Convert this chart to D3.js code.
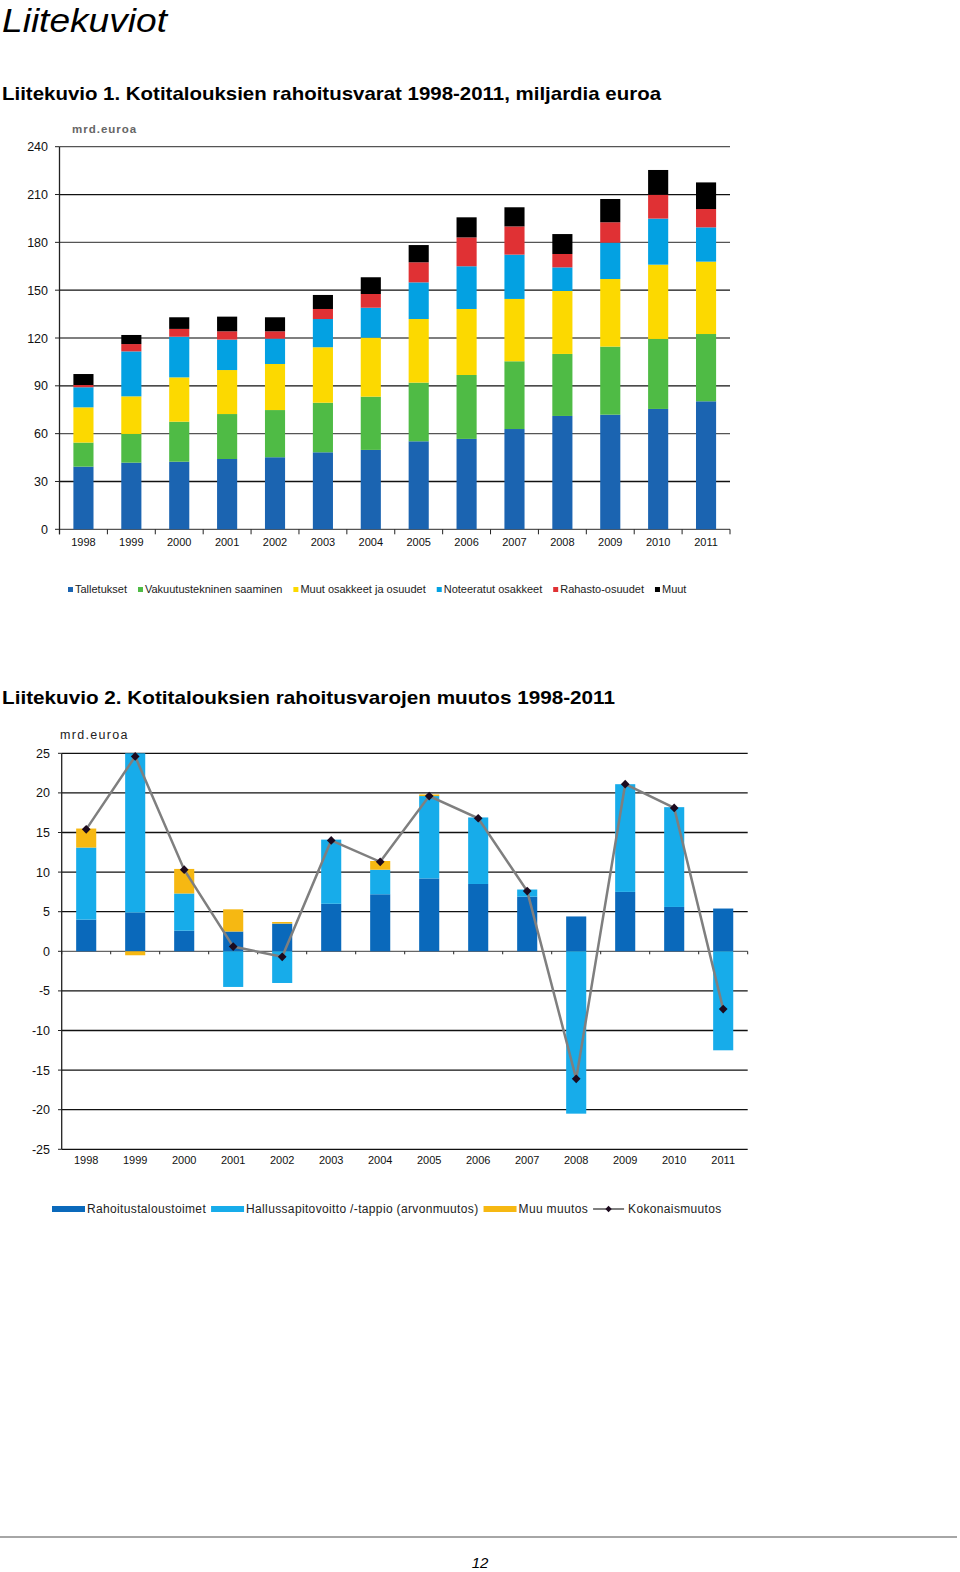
<!DOCTYPE html>
<html>
<head>
<meta charset="utf-8">
<script src="https://d3js.org/d3.v7.min.js"></script>
<style>
  body { margin: 0; background: #fff; }
  svg { display: block; font-family: "Liberation Sans", Arial, sans-serif; }
</style>
</head>
<body>
<svg width="960" height="1572"></svg>
<script>
// data for Liitekuvio 1
var years = ["1998","1999","2000","2001","2002","2003","2004","2005","2006","2007","2008","2009","2010","2011"];
var talletukset   = [39.3, 41.8, 42.4, 44.1, 45.2, 48.3, 49.8, 55.2, 56.7, 62.9, 71.1, 71.9, 75.5, 80.3];
var vakuutus      = [15.1, 18.0, 25.1, 28.2, 29.6, 31.1, 33.4, 36.8, 40.1, 42.5, 38.9, 42.7, 43.9, 42.2];
var muutOsakkeet  = [22.1, 23.6, 27.8, 27.6, 28.9, 34.8, 37.0, 39.9, 41.4, 39.1, 39.5, 42.4, 46.6, 45.4];
var noteeratut    = [12.6, 28.2, 25.5, 19.1, 15.9, 17.7, 18.8, 23.0, 26.8, 27.8, 14.8, 22.8, 28.9, 21.5];
var rahasto       = [1.4, 4.6, 4.9, 5.2, 4.6, 6.3, 8.6, 12.6, 18.1, 17.7, 8.4, 12.8, 15.0, 11.5];
var muut          = [6.9, 5.7, 7.3, 9.2, 8.8, 8.8, 10.5, 10.8, 12.6, 12.0, 12.5, 14.6, 15.5, 16.7];
var names1 = ["Talletukset", "Vakuutustekninen saaminen", "Muut osakkeet ja osuudet", "Noteeratut osakkeet", "Rahasto-osuudet", "Muut"];
var colors1 = ["#1b64b1", "#4fbb45", "#fcd900", "#03a1e2", "#e03134", "#000000"];
var ticks1 = [0, 30, 60, 90, 120, 150, 180, 210, 240];

// data for Liitekuvio 2
var rahoitus   = [4.0, 4.9, 2.6, 2.5, 3.5, 6.0, 7.2, 9.2, 8.5, 6.9, 4.4, 7.5, 5.6, 5.4];
var hallussa   = [9.1, 20.2, 4.7, -4.5, -4.0, 8.1, 3.1, 10.4, 8.4, 0.9, -20.5, 13.6, 12.6, -12.5];
var muuMuutos  = [2.4, -0.5, 3.1, 2.8, 0.2, 0, 1.1, 0.2, 0, 0, 0, 0, 0, 0];
var kokonais   = [15.4, 24.6, 10.3, 0.6, -0.7, 14.0, 11.3, 19.6, 16.8, 7.6, -16.1, 21.1, 18.1, -7.3];
var names2 = ["Rahoitustaloustoimet", "Hallussapitovoitto /-tappio (arvonmuutos)", "Muu muutos", "Kokonaismuutos"];
var colors2 = ["#0a69bb", "#17acea", "#f6b812"];
var ticks2 = [-25, -20, -15, -10, -5, 0, 5, 10, 15, 20, 25];

var svg = d3.select("svg");

svg.append("text").attr("x", 2).attr("y", 32)
  .attr("font-size", 34).attr("font-style", "italic").attr("fill", "#000")
  .attr("textLength", 165).attr("lengthAdjust", "spacingAndGlyphs")
  .text("Liitekuviot");

svg.append("text").attr("x", 2).attr("y", 100)
  .attr("font-size", 19).attr("font-weight", "bold").attr("textLength", 659).attr("lengthAdjust", "spacingAndGlyphs")
  .text("Liitekuvio 1. Kotitalouksien rahoitusvarat 1998-2011, miljardia euroa");

svg.append("text").attr("x", 2).attr("y", 704)
  .attr("font-size", 19).attr("font-weight", "bold").attr("textLength", 613).attr("lengthAdjust", "spacingAndGlyphs")
  .text("Liitekuvio 2. Kotitalouksien rahoitusvarojen muutos 1998-2011");

// ---------- chart 1 ----------
var g1 = svg.append("g");
var x1 = d3.scaleBand().domain(years).range([59.5, 730]).paddingInner(0.58).paddingOuter(0.29);
var y1 = d3.scaleLinear().domain([0, 240]).range([529.3, 146.7]);

g1.selectAll(".grid").data(ticks1).enter().append("line")
  .attr("x1", 59.5).attr("x2", 730)
  .attr("y1", function(d) { return y1(d); }).attr("y2", function(d) { return y1(d); })
  .attr("stroke", function(d, i) { return i % 2 ? "#111" : "#555"; }).attr("stroke-width", 1.3);

var rows1 = years.map(function(y, i) {
  return { year: y, s0: talletukset[i], s1: vakuutus[i], s2: muutOsakkeet[i], s3: noteeratut[i], s4: rahasto[i], s5: muut[i] };
});
var stack1 = d3.stack().keys(["s0","s1","s2","s3","s4","s5"])(rows1);

g1.selectAll(".layer").data(stack1).enter().append("g")
  .attr("fill", function(d, i) { return colors1[i]; })
  .selectAll("rect").data(function(d) { return d; }).enter().append("rect")
  .attr("x", function(d) { return x1(d.data.year); })
  .attr("width", x1.bandwidth())
  .attr("y", function(d) { return y1(d[1]); })
  .attr("height", function(d) { return y1(d[0]) - y1(d[1]); });

// axes
g1.append("line").attr("x1", 59.5).attr("x2", 59.5).attr("y1", y1(240)).attr("y2", y1(0) + 5)
  .attr("stroke", "#222").attr("stroke-width", 1.3);
g1.selectAll(".ytick").data(ticks1).enter().append("line")
  .attr("x1", 55).attr("x2", 59.5)
  .attr("y1", function(d) { return y1(d); }).attr("y2", function(d) { return y1(d); })
  .attr("stroke", "#222");
g1.selectAll(".ylab").data(ticks1).enter().append("text")
  .attr("x", 48).attr("y", function(d) { return y1(d) + 4.5; })
  .attr("text-anchor", "end").attr("font-size", 12.5).attr("fill", "#111")
  .text(function(d) { return d; });
g1.selectAll(".xtick").data(d3.range(years.length + 1)).enter().append("line")
  .attr("x1", function(i) { return 59.5 + i * x1.step(); }).attr("x2", function(i) { return 59.5 + i * x1.step(); })
  .attr("y1", y1(0)).attr("y2", y1(0) + 5)
  .attr("stroke", "#222");
g1.selectAll(".xlab").data(years).enter().append("text")
  .attr("x", function(d) { return x1(d) + x1.bandwidth() / 2; }).attr("y", 546)
  .attr("text-anchor", "middle").attr("font-size", 11).attr("fill", "#111")
  .text(function(d) { return d; });
g1.append("text").attr("x", 72).attr("y", 133).attr("font-size", 11.5).attr("font-weight", "bold")
  .attr("letter-spacing", 1).attr("fill", "#666").text("mrd.euroa");

// legend 1
var lx = 68;
names1.forEach(function(n, i) {
  g1.append("rect").attr("x", lx).attr("y", 587).attr("width", 5).attr("height", 5).attr("fill", colors1[i]);
  var t = g1.append("text").attr("x", lx + 7).attr("y", 593).attr("font-size", 11).attr("fill", "#222")
    .text(n);
  lx += 7 + t.node().getComputedTextLength() + 11;
});

// ---------- chart 2 ----------
var g2 = svg.append("g");
var x2 = d3.scaleBand().domain(years).range([61.7, 747.7]).paddingInner(0.59).paddingOuter(0.295);
var y2 = d3.scaleLinear().domain([-25, 25]).range([1149.3, 753.3]);

g2.selectAll(".grid").data(ticks2).enter().append("line")
  .attr("x1", 61.7).attr("x2", 747.7)
  .attr("y1", function(d) { return y2(d); }).attr("y2", function(d) { return y2(d); })
  .attr("stroke", function(d) { return d === 0 ? "#666" : "#111"; }).attr("stroke-width", 1.3);

var rows2 = years.map(function(y, i) {
  return { year: y, r: rahoitus[i], h: hallussa[i], m: muuMuutos[i] };
});
var stack2 = d3.stack().keys(["r","h","m"]).offset(d3.stackOffsetDiverging)(rows2);

g2.selectAll(".layer").data(stack2).enter().append("g")
  .attr("fill", function(d, i) { return colors2[i]; })
  .selectAll("rect").data(function(d) { return d; }).enter().append("rect")
  .attr("x", function(d) { return x2(d.data.year); })
  .attr("width", x2.bandwidth())
  .attr("y", function(d) { return y2(Math.min(25, Math.max(d[0], d[1]))); })
  .attr("height", function(d) { return Math.abs(y2(d[0]) - y2(Math.min(25, d[1]))); });

// x ticks on zero line
g2.selectAll(".xtick").data(d3.range(years.length + 1)).enter().append("line")
  .attr("x1", function(i) { return 61.7 + i * x2.step(); }).attr("x2", function(i) { return 61.7 + i * x2.step(); })
  .attr("y1", y2(0)).attr("y2", y2(0) + 3)
  .attr("stroke", "#222");

var line2 = d3.line()
  .x(function(d, i) { return x2(years[i]) + x2.bandwidth() / 2; })
  .y(function(d) { return y2(d); });
g2.append("path").datum(kokonais).attr("d", line2)
  .attr("fill", "none").attr("stroke", "#7f7f7f").attr("stroke-width", 2.5);
g2.selectAll(".dot").data(kokonais).enter().append("path")
  .attr("d", d3.symbol(d3.symbolSquare, 38))
  .attr("transform", function(d, i) { return "translate(" + (x2(years[i]) + x2.bandwidth() / 2) + "," + y2(d) + ") rotate(45)"; })
  .attr("fill", "#1c0a1e");

g2.append("line").attr("x1", 61.7).attr("x2", 61.7).attr("y1", y2(25)).attr("y2", y2(-25))
  .attr("stroke", "#222").attr("stroke-width", 1.3);
g2.selectAll(".ytick").data(ticks2).enter().append("line")
  .attr("x1", 58).attr("x2", 61.7)
  .attr("y1", function(d) { return y2(d); }).attr("y2", function(d) { return y2(d); })
  .attr("stroke", "#222");
g2.selectAll(".ylab").data(ticks2).enter().append("text")
  .attr("x", 50).attr("y", function(d) { return y2(d) + 4.5; })
  .attr("text-anchor", "end").attr("font-size", 12.5).attr("fill", "#111")
  .text(function(d) { return d; });
g2.selectAll(".xlab").data(years).enter().append("text")
  .attr("x", function(d) { return x2(d) + x2.bandwidth() / 2; }).attr("y", 1164)
  .attr("text-anchor", "middle").attr("font-size", 11).attr("fill", "#111")
  .text(function(d) { return d; });
g2.append("text").attr("x", 60).attr("y", 739).attr("font-size", 12.5)
  .attr("letter-spacing", 1.3).attr("fill", "#222").text("mrd.euroa");

// legend 2
var lx2 = 52;
names2.forEach(function(n, i) {
  if (i < 3) {
    g2.append("rect").attr("x", lx2).attr("y", 1206).attr("width", 33).attr("height", 6).attr("fill", colors2[i]);
  } else {
    g2.append("line").attr("x1", lx2).attr("x2", lx2 + 31).attr("y1", 1209).attr("y2", 1209)
      .attr("stroke", "#7f7f7f").attr("stroke-width", 2);
    g2.append("path").attr("d", d3.symbol(d3.symbolSquare, 20))
      .attr("transform", "translate(" + (lx2 + 15.5) + ",1209) rotate(45)").attr("fill", "#1c0a1e");
  }
  var t = g2.append("text").attr("x", lx2 + 35).attr("y", 1213).attr("font-size", 12)
    .attr("letter-spacing", 0.35).attr("fill", "#222").text(n);
  lx2 += 35 + t.node().getComputedTextLength() + 5;
});

// footer
svg.append("line").attr("x1", 0).attr("x2", 957).attr("y1", 1537).attr("y2", 1537)
  .attr("stroke", "#888").attr("stroke-width", 1.5);
svg.append("text").attr("x", 480).attr("y", 1568).attr("text-anchor", "middle")
  .attr("font-size", 15).attr("font-style", "italic").text("12");
</script>
</body>
</html>
